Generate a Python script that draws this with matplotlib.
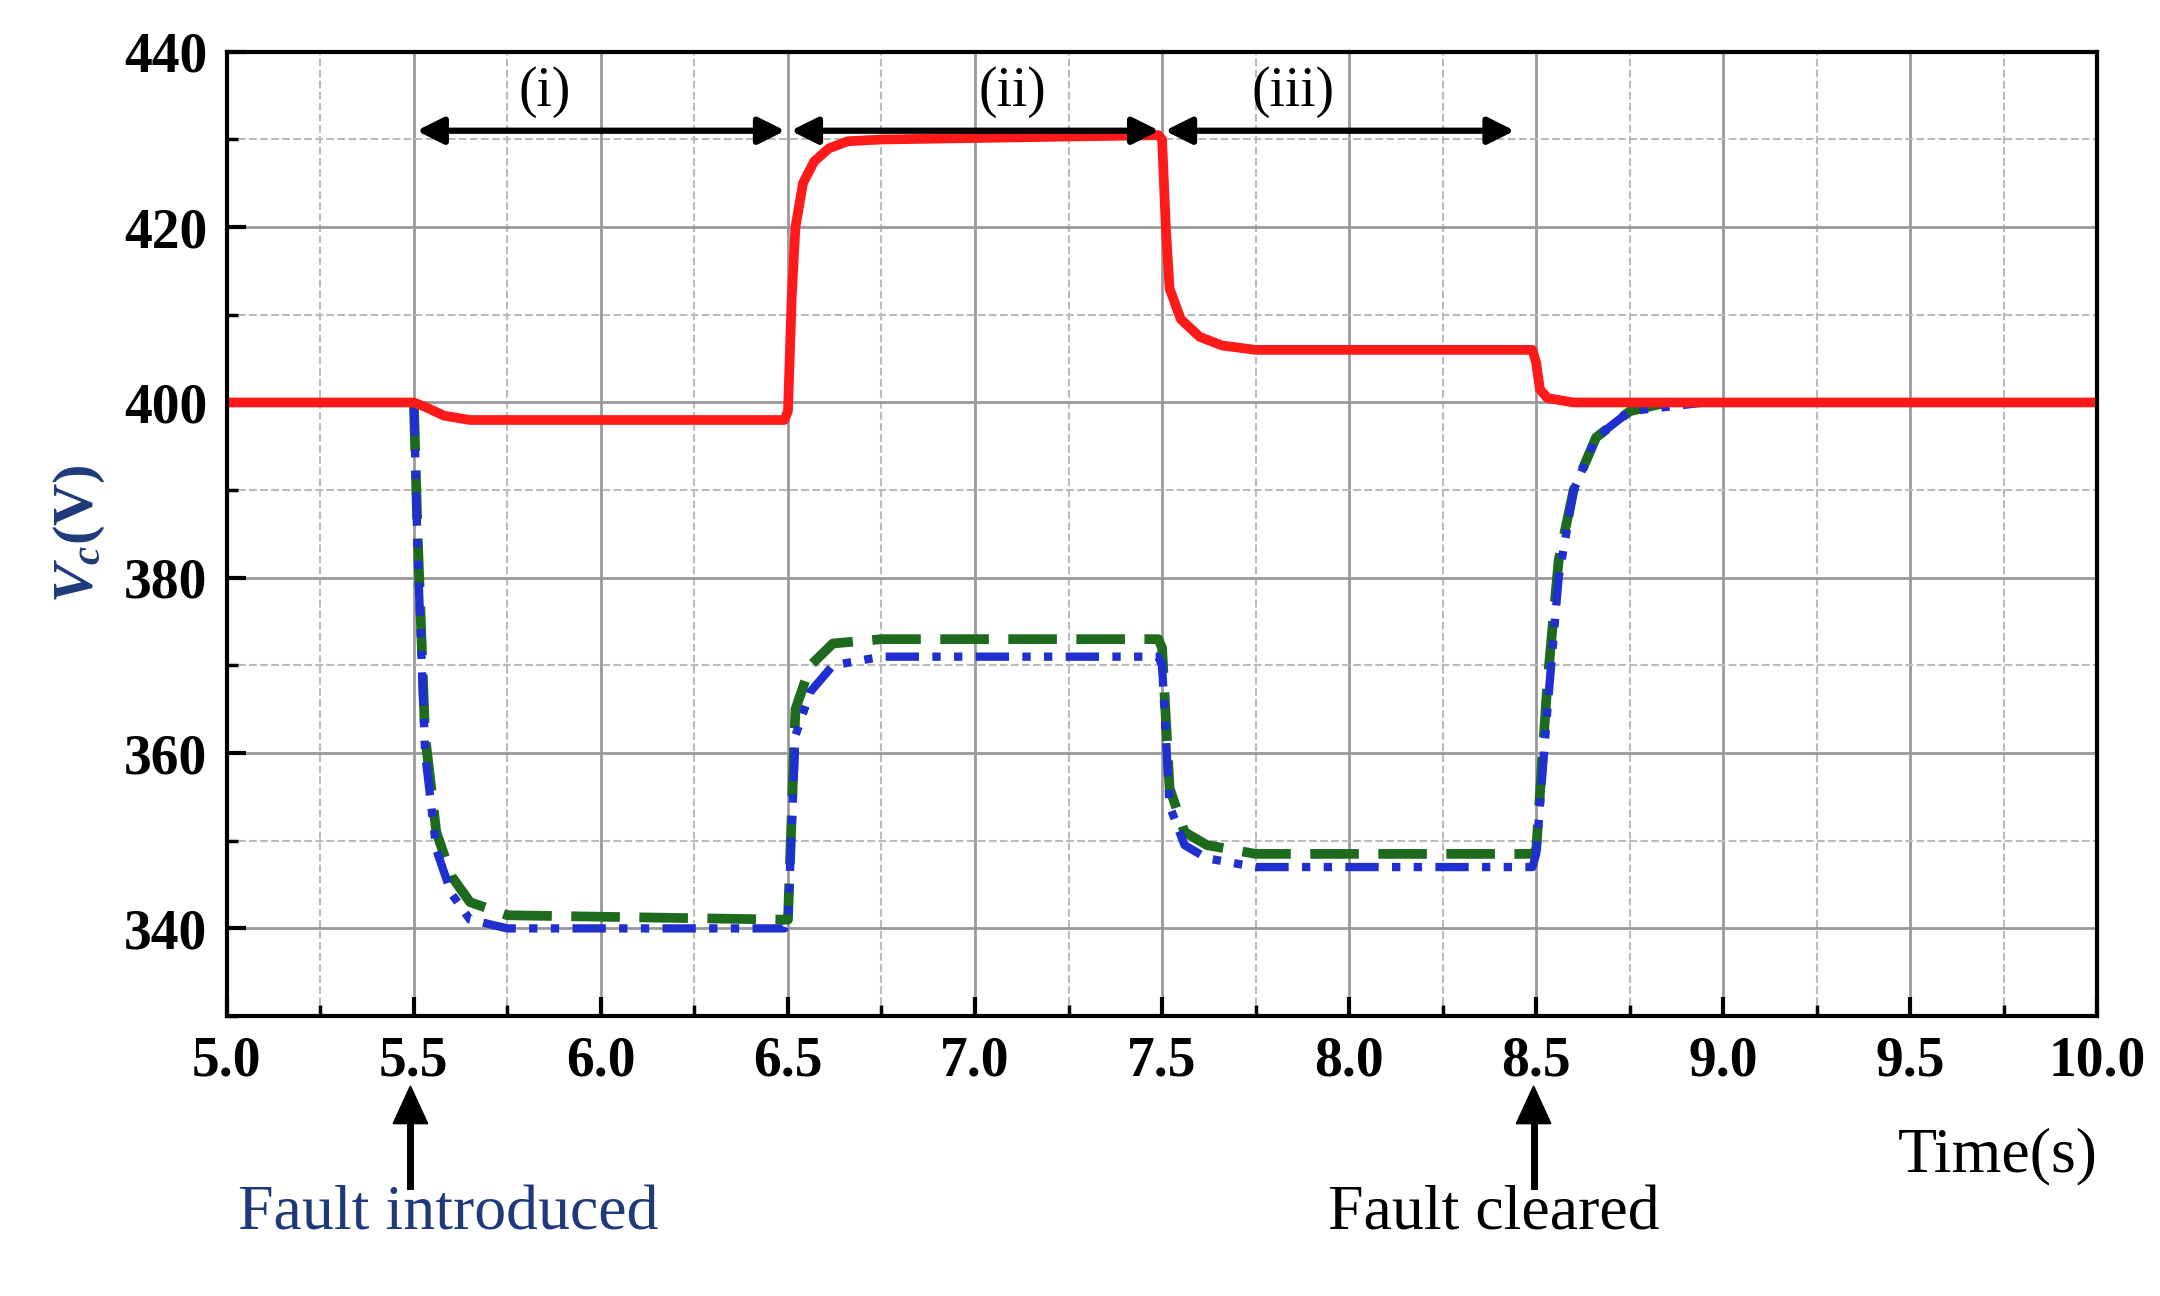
import matplotlib.pyplot as plt
from matplotlib.ticker import MultipleLocator

plt.rcParams["font.family"] = ["Liberation Serif", "DejaVu Serif"]
plt.rcParams["mathtext.fontset"] = "custom"
plt.rcParams["mathtext.it"] = "Liberation Serif:italic:bold"
plt.rcParams["mathtext.rm"] = "Liberation Serif:bold"

# capacitor voltage traces
t_red = [5.0, 5.5, 5.53, 5.58, 5.65, 6.49, 6.5, 6.51, 6.52, 6.54, 6.57, 6.61, 6.66, 6.75, 7.49, 7.5, 7.51, 7.52, 7.55, 7.6, 7.66, 7.75, 8.49, 8.5, 8.51, 8.53, 8.6, 10.0]
v_red = [400, 400, 399.5, 398.5, 398, 398, 399, 412, 420, 425, 427.5, 429, 429.8, 430, 430.5, 430, 420, 413, 409.5, 407.5, 406.5, 406, 406, 404.5, 401.5, 400.5, 400, 400]

t_green = [5.5, 5.51, 5.53, 5.56, 5.6, 5.65, 5.75, 6.49, 6.5, 6.52, 6.56, 6.62, 6.75, 7.49, 7.5, 7.52, 7.56, 7.62, 7.75, 8.49, 8.5, 8.53, 8.56, 8.6, 8.66, 8.75, 8.85]
v_green = [400, 385, 362, 351, 346, 343, 341.5, 341, 341, 365, 370, 372.5, 373, 373, 372, 356, 351, 349.5, 348.5, 348.5, 349, 368, 382, 390, 396, 399, 400]

t_blue = [5.5, 5.51, 5.53, 5.56, 5.6, 5.65, 5.75, 6.49, 6.5, 6.52, 6.56, 6.62, 6.75, 7.49, 7.5, 7.52, 7.56, 7.62, 7.75, 8.49, 8.5, 8.53, 8.56, 8.6, 8.66, 8.75, 8.95]
v_blue = [400, 383, 360, 349, 344, 341, 340, 340, 341, 362, 367, 370, 371, 371, 370, 354, 349.5, 348, 347, 347, 348.5, 365, 380, 390, 396, 399, 400]

intervals = [(5.5, 6.5, "(i)", 5.85), (6.5, 7.5, "(ii)", 7.1), (7.5, 8.45, "(iii)", 7.85)]

fig = plt.figure(figsize=(21.6, 12.96), dpi=100)
ax = fig.add_axes([0.105, 0.216, 0.866, 0.744])

ax.plot(t_green, v_green, color="#1e6b1e", lw=7, ls=(0, (5, 2)))
ax.plot(t_blue, v_blue, color="#1f2fd0", lw=6, ls=(0, (4, 1.6, 1, 1.6, 1, 1.6)))
ax.plot(t_red, v_red, color="#ff1a1a", lw=7)

for a, b, lab, xl in intervals:
    ax.annotate("", xy=(b, 431), xytext=(a, 431),
                arrowprops=dict(arrowstyle="<|-|>", color="black", lw=4.5, mutation_scale=40))
    ax.text(xl, 432.5, lab, fontsize=40, ha="center", va="bottom")

ax.set_xlim(5.0, 10.0)
ax.set_ylim(330, 440)
ax.xaxis.set_major_locator(MultipleLocator(0.5))
ax.xaxis.set_minor_locator(MultipleLocator(0.25))
ax.yaxis.set_major_locator(MultipleLocator(20))
ax.yaxis.set_minor_locator(MultipleLocator(10))
ax.grid(which="major", color="#999999", lw=2)
ax.grid(which="minor", color="#bbbbbb", lw=1.5, ls="--")
ax.set_axisbelow(True)
ax.tick_params(which="major", direction="in", length=14, width=3, labelsize=40, pad=14)
ax.tick_params(which="minor", direction="in", length=8, width=2.5)
for lbl in ax.get_xticklabels() + ax.get_yticklabels():
    lbl.set_fontweight("bold")
for s in ax.spines.values():
    s.set_linewidth(3)

ax.set_ylabel(r"$V_c\mathrm{(V)}$", fontsize=42, color="#1f3a7a", labelpad=12)
fig.text(0.971, 0.108, "Time(s)", fontsize=46, ha="right", va="center")

for xf, label, col, xt in [(0.190, "Fault introduced", "#1f3a7a", 0.110),
                           (0.710, "Fault cleared", "black", 0.615)]:
    fig.add_artist(plt.Line2D([xf, xf], [0.085, 0.15], color="black", lw=5))
    fig.patches.append(plt.Polygon([[xf - 0.008, 0.133], [xf + 0.008, 0.133], [xf, 0.162]],
                                   closed=True, color="black", transform=fig.transFigure))
    fig.text(xt, 0.063, label, fontsize=46, color=col, ha="left", va="center")

fig.savefig("out.png", dpi=100)
